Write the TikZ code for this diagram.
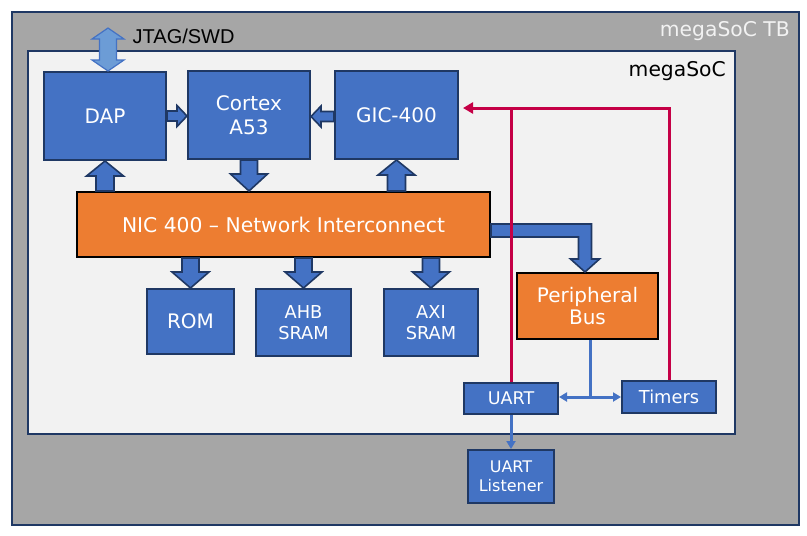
\documentclass[tikz,border=0pt]{standalone}
\usepackage{fontspec}
\setmainfont{DejaVu Sans}
\newfontfamily\arialfont{Liberation Sans}
\usetikzlibrary{calc,arrows.meta}
\definecolor{tbgray}{HTML}{A6A6A6}
\definecolor{socfill}{HTML}{F2F2F2}
\definecolor{navy}{HTML}{1F3864}
\definecolor{boxblue}{HTML}{4472C4}
\definecolor{lightblue}{HTML}{6C9CD6}
\definecolor{orng}{HTML}{ED7D31}
\definecolor{crim}{HTML}{C50046}
\tikzset{
  bluebox/.style={draw=navy, fill=boxblue, line width=2pt, text=white, align=center, inner sep=0pt},
  orangebox/.style={draw=black, fill=orng, line width=2pt, text=white, align=center, inner sep=0pt},
  barrow/.style={draw=navy, fill=boxblue, line width=1.6pt, line join=miter},
  redline/.style={draw=crim, line width=3pt},
  thinblue/.style={draw=boxblue, line width=3pt},
  bigtxt/.style={font=\fontsize{20}{24}\selectfont},
}
% block arrow: #1 tail, #2 tip, #3 shaft half width, #4 head half width, #5 head length
\newcommand\blockarr[5]{%
  \path[barrow]
    ($#1!#3!90:#2$) --
    ($($#2!#5!#1$)!#3!90:#2$) --
    ($($#2!#5!#1$)!#4!90:#2$) --
    #2 --
    ($($#2!#5!#1$)!#4!-90:#2$) --
    ($($#2!#5!#1$)!#3!-90:#2$) --
    ($#1!#3!-90:#2$) -- cycle;}
\begin{document}
\begin{tikzpicture}[x=1pt,y=-1pt]
\useasboundingbox (0,0) rectangle (807,536);
\fill[white] (0,0) rectangle (807,536);
% containers
\node[draw=navy, fill=tbgray, line width=2pt, minimum width=787pt, minimum height=513pt, inner sep=0pt] (tb) at (405.5,268.5) {};
\node[draw=navy, fill=socfill, line width=2pt, minimum width=707pt, minimum height=383pt, inner sep=0pt] (soc) at (381.5,242.5) {};
\node[anchor=base east, text=socfill, font=\fontsize{20.3}{24}\selectfont, inner sep=0pt] (tblabel) at (790,36) {megaSoC TB};
\node[anchor=base east, text=black, font=\fontsize{20.3}{24}\selectfont, inner sep=0pt] (soclabel) at (726,76) {megaSoC};
% blocks
\node[bluebox, bigtxt, minimum width=122pt, minimum height=88pt] (dap) at (105,116) {DAP};
\node[bluebox, bigtxt, minimum width=122pt, minimum height=88pt] (cpu) at (249,115) {Cortex\\A53};
\node[bluebox, bigtxt, minimum width=123pt, minimum height=88pt] (gic) at (396.5,115) {GIC-400};
\node[orangebox, font=\fontsize{20.3}{24}\selectfont, minimum width=413pt, minimum height=65pt] (nic) at (283.5,224.5) {NIC 400 – Network Interconnect};
\node[bluebox, bigtxt, minimum width=87pt, minimum height=65pt] (rom) at (190.5,321.5) {ROM};
\node[bluebox, font=\fontsize{17.8}{21.5}\selectfont, minimum width=95pt, minimum height=67pt] (ahb) at (303.5,322.5) {AHB\\SRAM};
\node[bluebox, font=\fontsize{17.8}{21.5}\selectfont, minimum width=94pt, minimum height=67pt] (axi) at (431,322.5) {AXI\\SRAM};
\node[orangebox, font=\fontsize{20}{22.5}\selectfont, minimum width=141pt, minimum height=66pt] (pb) at (587.5,306) {Peripheral\\Bus};
\node[bluebox, font=\fontsize{17.5}{20}\selectfont, minimum width=94pt, minimum height=31pt] (uart) at (511,398.5) {UART};
\node[bluebox, font=\fontsize{17.8}{20}\selectfont, minimum width=94pt, minimum height=32pt] (tim) at (669,397) {Timers};
\node[bluebox, font=\fontsize{16}{19}\selectfont, minimum width=86pt, minimum height=53pt] (ul) at (511,476.5) {UART\\Listener};
% JTAG double arrow
\coordinate (jtop) at (108,28);
\coordinate (jbot) at (dap.north -| jtop);
\path[draw=boxblue, fill=lightblue, line width=1.2pt, line join=miter]
  ($(jtop)+(0,0)$) -- ($(jtop)+(16,11)$) -- ($(jtop)+(8.5,11)$) -- ($(jbot)+(8.5,-11)$) -- ($(jbot)+(16,-11)$) -- (jbot)
  -- ($(jbot)+(-16,-11)$) -- ($(jbot)+(-8.5,-11)$) -- ($(jtop)+(-8.5,11)$) -- ($(jtop)+(-16,11)$) -- cycle;
\node[anchor=base west, font=\arialfont\fontsize{20}{24}\selectfont, inner sep=0pt] (jtag) at (132.5,43.3) {JTAG/SWD};
% block arrows
\blockarr{(dap.east)}{(cpu.west |- dap.east)}{5pt}{10.5pt}{10pt}
\blockarr{(gic.west |- 0,116.5)}{(cpu.east |- 0,116.5)}{5pt}{10.5pt}{10pt}
\blockarr{(dap.south |- nic.north)}{(dap.south)}{9pt}{18.5pt}{15pt}
\blockarr{(cpu.south)}{(cpu.south |- nic.north)}{8.5pt}{18.5pt}{17pt}
\blockarr{(gic.south |- nic.north)}{(gic.south)}{9pt}{18.5pt}{15pt}
\blockarr{(rom.north |- nic.south)}{(rom.north)}{8.5pt}{18.5pt}{16pt}
\blockarr{(ahb.north |- nic.south)}{(ahb.north)}{8.5pt}{18.5pt}{16pt}
\blockarr{(axi.north |- nic.south)}{(axi.north)}{8.5pt}{18.5pt}{16pt}
% elbow arrow NIC -> Peripheral Bus
\path[barrow] let \p1=(nic.east), \p2=($(pb.north)+(-2.5,0)$) in
  (\x1,\y1+0.5pt) -- (\x2+6.5pt,\y1+0.5pt) -- (\x2+6.5pt,\y2+13pt) -- (\x2+14.5pt,\y2+13pt) -- (\x2,\y2)
  -- (\x2-14.5pt,\y2+13pt) -- (\x2-6.5pt,\y2+13pt) -- (\x2-6.5pt,\y1-12.5pt) -- (\x1,\y1-12.5pt) -- cycle;
% interrupt lines
\coordinate (redlvl) at (0,108);
\draw[redline] (uart.north) -- (uart.north |- redlvl);
\draw[redline, -{Triangle[length=10pt,width=11pt]}, shorten >=4pt] (tim.north) -- (tim.north |- redlvl) -- (gic.east |- redlvl);
% peripheral bus lines
\coordinate (bj) at ($(pb.south |- tim.west)+(2.5,0)$);
\draw[thinblue] ($(pb.south)+(2.5,0)$) -- (bj);
\draw[thinblue, -{Triangle[length=8pt,width=9pt]}] (bj) -- (uart.east |- bj);
\draw[thinblue, -{Triangle[length=8pt,width=9pt]}] (bj) -- (tim.west);
\draw[thinblue, -{Triangle[length=8pt,width=9pt]}] (uart.south) -- (ul.north);
\end{tikzpicture}
\end{document}
